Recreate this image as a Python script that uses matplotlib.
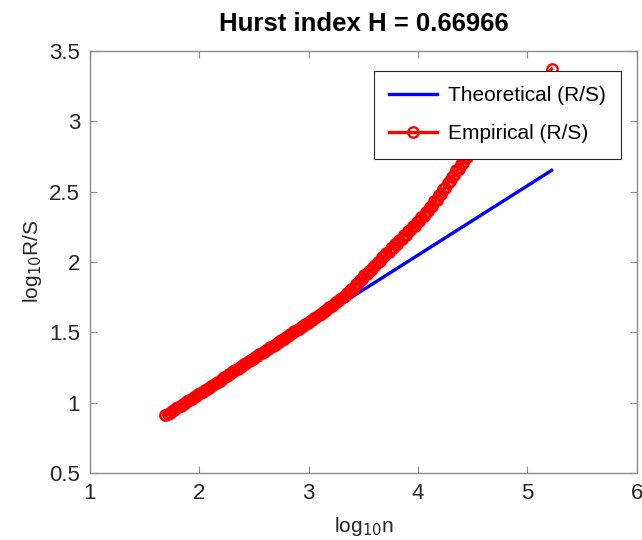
import matplotlib
matplotlib.use("Agg")
import matplotlib.pyplot as plt

plt.rcParams['font.family'] = ['Liberation Sans', 'DejaVu Sans']

# Theoretical (R/S) line, log10 n vs log10 R/S
theo_logn = [1.69, 5.22]
theo_logrs = [0.91, 2.65]

# Empirical (R/S) (very dense markers)
emp_logn = [1.69, 1.71, 1.73, 1.75, 1.77, 1.79, 1.81, 1.83, 1.85, 1.87,
            1.89, 1.91, 1.93, 1.95, 1.97, 1.99, 2.01, 2.03, 2.05, 2.07,
            2.09, 2.11, 2.13, 2.15, 2.17, 2.19, 2.21, 2.23, 2.25, 2.27,
            2.29, 2.31, 2.33, 2.35, 2.37, 2.39, 2.41, 2.43, 2.45, 2.47,
            2.49, 2.51, 2.53, 2.55, 2.57, 2.59, 2.61, 2.63, 2.65, 2.67,
            2.69, 2.71, 2.73, 2.75, 2.77, 2.79, 2.81, 2.83, 2.85, 2.87,
            2.89, 2.91, 2.93, 2.95, 2.97, 2.99, 3.01, 3.03, 3.05, 3.07,
            3.09, 3.11, 3.13, 3.15, 3.17, 3.19, 3.21, 3.23, 3.25, 3.27,
            3.29, 3.31, 3.33, 3.35, 3.37, 3.39, 3.41, 3.43, 3.45, 3.47,
            3.49, 3.51, 3.53, 3.55, 3.57, 3.59, 3.61, 3.63, 3.65, 3.67,
            3.69, 3.71, 3.73, 3.75, 3.77, 3.79, 3.81, 3.83, 3.85, 3.87,
            3.89, 3.91, 3.93, 3.95, 3.97, 3.99, 4.01, 4.03, 4.05, 4.07,
            4.09, 4.11, 4.13, 4.15, 4.17, 4.19, 4.21, 4.23, 4.25, 4.27,
            4.29, 4.31, 4.33, 4.35, 4.37, 4.39, 4.41, 4.43, 4.45, 4.47,
            4.49, 4.51, 5.22]
emp_logrs = [0.910, 0.920, 0.930, 0.940, 0.949, 0.959, 0.969, 0.979, 0.989, 0.999,
             1.009, 1.018, 1.028, 1.038, 1.048, 1.058, 1.068, 1.078, 1.087, 1.097,
             1.107, 1.117, 1.127, 1.137, 1.147, 1.157, 1.171, 1.181, 1.191, 1.202,
             1.212, 1.222, 1.232, 1.242, 1.252, 1.262, 1.272, 1.283, 1.293, 1.303,
             1.312, 1.322, 1.333, 1.343, 1.353, 1.363, 1.373, 1.383, 1.393, 1.403,
             1.413, 1.423, 1.434, 1.444, 1.453, 1.464, 1.474, 1.485, 1.495, 1.506,
             1.516, 1.526, 1.536, 1.547, 1.557, 1.568, 1.578, 1.589, 1.598, 1.609,
             1.620, 1.631, 1.642, 1.654, 1.666, 1.678, 1.689, 1.701, 1.713, 1.725,
             1.737, 1.752, 1.761, 1.778, 1.787, 1.808, 1.818, 1.840, 1.848, 1.872,
             1.880, 1.906, 1.912, 1.938, 1.944, 1.966, 1.976, 2.002, 2.006, 2.034,
             2.040, 2.066, 2.070, 2.096, 2.100, 2.126, 2.130, 2.156, 2.160, 2.188,
             2.192, 2.220, 2.224, 2.252, 2.256, 2.284, 2.290, 2.318, 2.324, 2.354,
             2.360, 2.392, 2.400, 2.432, 2.440, 2.474, 2.484, 2.518, 2.528, 2.562,
             2.572, 2.606, 2.616, 2.650, 2.660, 2.694, 2.704, 2.738, 2.748, 2.782,
             2.792, 2.820, 3.370]

fig = plt.figure(figsize=(6.42, 5.40), dpi=100)
ax = fig.add_axes([0.140, 0.124, 0.852, 0.782])

ax.plot(theo_logn, theo_logrs, color='blue', lw=2.4, label='Theoretical (R/S)', zorder=2)
ax.plot(emp_logn, emp_logrs, color='red', lw=2.4, marker='o', ms=7.5,
        mfc='none', mec='red', mew=1.7, label='Empirical (R/S)', zorder=3)

ax.set_xlim(1, 6)
ax.set_ylim(0.5, 3.5)
ax.set_xticks([1, 2, 3, 4, 5, 6])
ax.set_yticks([0.5, 1, 1.5, 2, 2.5, 3, 3.5])
ax.set_yticklabels(['0.5', '1', '1.5', '2', '2.5', '3', '3.5'])

for s in ax.spines.values():
    s.set_color('#8c8c8c')
    s.set_linewidth(1.0)
ax.tick_params(direction='in', length=5, width=0.8, color='#8c8c8c',
               top=True, right=True, labelsize=16, labelcolor='#262626', pad=7)

ax.set_xlabel(r'log$_{10}$n', fontsize=15, color='#262626', labelpad=8)
ax.set_ylabel(r'log$_{10}$R/S', fontsize=15, color='#262626', labelpad=4)
ax.set_title('Hurst index H = 0.66966', fontsize=18.5, fontweight='bold', pad=14)

leg = ax.legend(loc='upper right', bbox_to_anchor=(0.971, 0.953), fontsize=15,
                frameon=True, fancybox=False, framealpha=1, edgecolor='#262626',
                handlelength=2.3, handletextpad=0.5, borderpad=0.75,
                labelspacing=0.9, borderaxespad=0)
leg.get_frame().set_linewidth(0.8)

fig.savefig('out.png', dpi=100)
